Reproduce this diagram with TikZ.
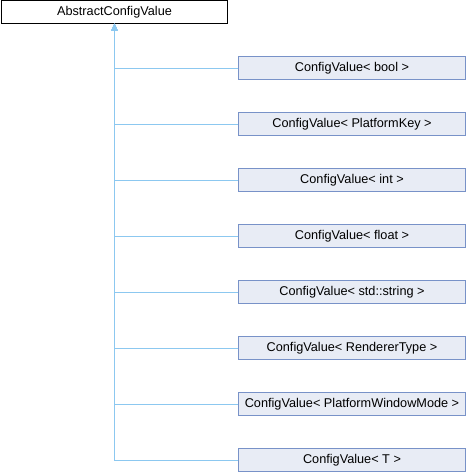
\documentclass[tikz,border=0pt]{standalone}
\usepackage{fontspec}
\setmainfont{Liberation Sans}
\usetikzlibrary{arrows.meta}
\definecolor{edgeblue}{RGB}{140,200,240}
\definecolor{clsborder}{RGB}{120,146,200}
\definecolor{clsfill}{RGB}{232,236,245}
\tikzset{
  cls/.style={draw=clsborder, fill=clsfill, line width=1pt, minimum width=226.5pt,
    minimum height=23pt, inner sep=0pt, font=\fontsize{12.7}{15}\selectfont},
  base/.style={cls, draw=black, fill=white, minimum height=22.5pt},
  edge/.style={draw=edgeblue, line width=1pt, -{Triangle[length=7pt, width=6pt]}}
}
\begin{document}
\begin{tikzpicture}[x=1pt, y=-1pt]
    \useasboundingbox (0,0) rectangle (466,472);
                \node[base] (A) at (114.5, 11.75) {AbstractConfigValue};
                \node[cls] (bool) at (352, 68) {ConfigValue< bool >};
                \node[cls] (key) at (352, 124) {ConfigValue< PlatformKey >};
                \node[cls] (int) at (352, 180) {ConfigValue< int >};
                \node[cls] (float) at (352, 236) {ConfigValue< float >};
                \node[cls] (str) at (352, 292) {ConfigValue< std::string >};
                \node[cls] (rend) at (352, 348) {ConfigValue< RendererType >};
                \node[cls] (win) at (352, 404) {ConfigValue< PlatformWindowMode >};
                \node[cls] (T) at (352, 460) {ConfigValue< T >};

                \draw [edge] (bool.west) -| (A.south);
                \draw [edge] (key.west) -| (A.south);
                \draw [edge] (int.west) -| (A.south);
                \draw [edge] (float.west) -| (A.south);
                \draw [edge] (str.west) -| (A.south);
                \draw [edge] (rend.west) -| (A.south);
                \draw [edge] (win.west) -| (A.south);
                \draw [edge] (T.west) -| (A.south);
            \end{tikzpicture}
\end{document}
